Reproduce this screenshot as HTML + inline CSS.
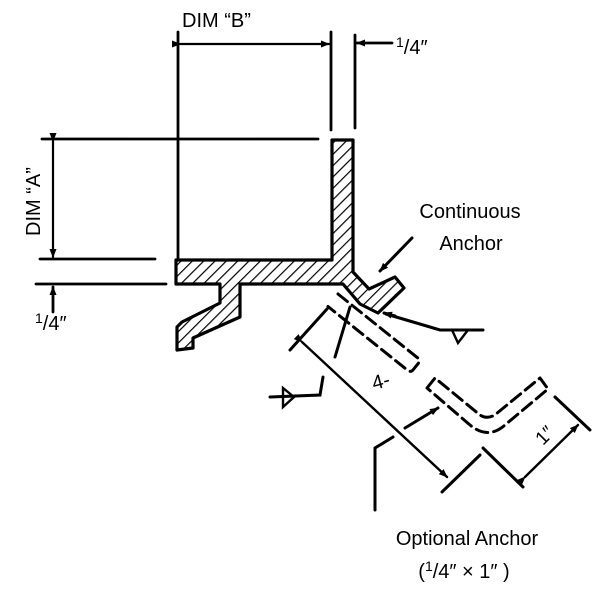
<!DOCTYPE html>
<html><head><style>
html,body{margin:0;padding:0;background:#fff;}
svg{display:block;}
text{font-family:"Liberation Sans",Arial,sans-serif;fill:#000;}
</style></head><body>
<svg width="600" height="593" viewBox="0 0 600 593" xmlns="http://www.w3.org/2000/svg">
<defs>
<pattern id="h" patternUnits="userSpaceOnUse" width="8" height="8" patternTransform="rotate(45)">
<rect width="8" height="8" fill="#fff"/>
<line x1="0" y1="0" x2="0" y2="8" stroke="#000" stroke-width="2.4"/>
</pattern>
<marker id="a" markerWidth="9" markerHeight="9" refX="8" refY="4.5" orient="auto" markerUnits="userSpaceOnUse"><path d="M0,1 L9,4.5 L0,8 Z" fill="#000"/></marker>
</defs>
<g stroke="#000" stroke-width="2.8" fill="none" stroke-linecap="round">
<line x1="178" y1="32" x2="178" y2="262"/>
<line x1="331" y1="32" x2="331" y2="130"/>
<line x1="355" y1="35" x2="355" y2="128"/>
<line x1="180" y1="44" x2="329" y2="44" marker-start="url(#a)" marker-end="url(#a)" stroke-width="2.2"/>
<line x1="392" y1="43" x2="357" y2="43" marker-end="url(#a)"/>
<line x1="42" y1="139" x2="318" y2="139"/>
<line x1="40" y1="259" x2="155" y2="259"/>
<line x1="36" y1="284" x2="166" y2="284"/>
<line x1="53" y1="141" x2="53" y2="257" marker-start="url(#a)" marker-end="url(#a)" stroke-width="2.2"/>
<line x1="53" y1="312" x2="53" y2="287" marker-end="url(#a)"/>
</g>
<path d="M176,260 L332,260 L332,140 L353,140 L353,272 L369,289 L395,277 L404,288 L378,313 L360,304 L343,284 L240,284 L240,317 L193,338 L193,348 L177,350 L177,327 L182,322 L220,303 L220,284 L176,284 Z" fill="url(#h)" stroke="#000" stroke-width="3.2" stroke-linejoin="round"/>
<g stroke="#000" stroke-width="3" fill="none" stroke-linecap="round">
<line x1="412" y1="238" x2="380" y2="271" marker-end="url(#a)"/>
<g transform="translate(338,294) rotate(38.7)">
<path d="M0,0 L102,0 Q106,0 106,4 L106,12 Q106,16 102,16 L0,16" stroke-dasharray="12,6"/>
</g>
<path d="M427,388 L435,378 L480,415 Q488,420 496,414 L540,378 L548,389 L505,425 Q488,440 470,425 Z" stroke-dasharray="12,6" stroke-linejoin="round"/>
<line x1="302" y1="342" x2="447" y2="477" stroke-width="2.4" marker-start="url(#a)" marker-end="url(#a)"/>
<line x1="290" y1="350" x2="327" y2="309"/>
<line x1="442" y1="492" x2="480" y2="455"/>
<line x1="525" y1="477" x2="578" y2="425" stroke-width="2.4" marker-start="url(#a)" marker-end="url(#a)"/>
<line x1="483" y1="448" x2="523" y2="487"/>
<line x1="555" y1="397" x2="590" y2="430"/>
<line x1="350" y1="307" x2="335" y2="357"/>
<polyline points="323,377 320,395 270,397"/>
<path d="M283,388 L283,407 L294,397 Z" stroke-width="2.4"/>
<polyline points="483,330 440,330 386,314" />
<line x1="395" y1="316" x2="384" y2="313" marker-end="url(#a)"/>
<path d="M452,330 L458,343 L468,330" stroke-width="2.4"/>
<polyline points="375,510 375,448 393,437"/>
<line x1="405" y1="428" x2="438" y2="408" marker-end="url(#a)"/>
</g>
<text font-size="20" transform="translate(374,390) rotate(-15)">4-</text>
<text font-size="19" transform="translate(543,446) rotate(-45)">1″</text>
<text x="182" y="27" font-size="20">DIM “B”</text>
<text x="396" y="54" font-size="20"><tspan font-size="14" dy="-7">1</tspan><tspan dy="7">/4″</tspan></text>
<text x="0" y="0" font-size="20" transform="translate(40,236) rotate(-90)">DIM “A”</text>
<text x="35" y="330" font-size="20"><tspan font-size="14" dy="-7">1</tspan><tspan dy="7">/4″</tspan></text>
<text x="470" y="218" font-size="20" text-anchor="middle">Continuous</text>
<text x="471" y="250" font-size="20" text-anchor="middle">Anchor</text>
<text x="467" y="545" font-size="20" text-anchor="middle">Optional Anchor</text>
<text x="464" y="578" font-size="20" text-anchor="middle">(<tspan font-size="14" dy="-7">1</tspan><tspan dy="7">/4″ × 1″ )</tspan></text>
</svg>
</body></html>
